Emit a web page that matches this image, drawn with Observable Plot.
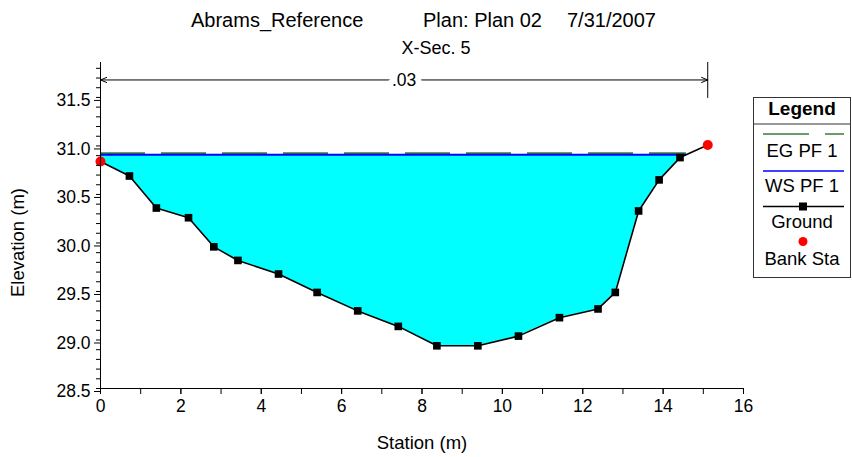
<!DOCTYPE html>
<html>
<head>
<meta charset="utf-8">
<script src="https://cdn.jsdelivr.net/npm/d3@7"></script>
<script src="https://cdn.jsdelivr.net/npm/@observablehq/plot@0.6"></script>
<style>
  html, body { margin: 0; padding: 0; background: #fff; }
  #wrap { position: relative; width: 852px; height: 457px; font-family: "Liberation Sans", Arial, sans-serif; color: #000; overflow: hidden; }
  #chart { position: absolute; left: 0; top: 0; }
  .t { position: absolute; white-space: pre; line-height: 1; }
  #legend { position: absolute; left: 753px; top: 97px; width: 96px; height: 179px; border: 1px solid #333; background: #fff; }
  #legend svg { position: absolute; left: 0; top: 0; }
</style>
</head>
<body>
<div id="wrap">
  <div id="chart"></div>
  <div id="titles"></div>
  <div id="legend"></div>
</div>
<script>
// ---- data ----
const titleParts = ["Abrams_Reference", "Plan: Plan 02", "7/31/2007"];
const subtitle = "X-Sec. 5";
const stations = [0, 0.72, 1.39, 2.19, 2.82, 3.42, 4.43, 5.39, 6.40, 7.41, 8.37, 9.39, 10.40, 11.42, 12.38, 12.81, 13.39, 13.90, 14.42, 15.11];
const elevations = [30.84, 30.69, 30.36, 30.26, 29.96, 29.82, 29.68, 29.49, 29.30, 29.14, 28.94, 28.94, 29.04, 29.23, 29.32, 29.49, 30.33, 30.65, 30.88, 31.01];
const bankStations = [0, 15.11];
const bankElevations = [30.84, 31.01];
const wsElevation = 30.91;
const egElevation = 30.925;
const manningN = ".03";
const xTickValues = [0, 2, 4, 6, 8, 10, 12, 14, 16];
const yTickValues = [28.5, 29.0, 29.5, 30.0, 30.5, 31.0, 31.5];
const legendLabels = ["EG PF 1", "WS PF 1", "Ground", "Bank Sta"];

// ---- derived ----
const ground = stations.map((s, i) => ({station: s, elev: elevations[i]}));
const banks = bankStations.map((s, i) => ({station: s, elev: bankElevations[i]}));
const bankSet = new Set(bankStations);
const interior = ground.filter(d => !bankSet.has(d.station));

// water polygon: from first station to where the ground rises above WS on the right
let water = [];
let xEnd = stations[stations.length - 1];
for (let i = 0; i < ground.length; i++) {
  const d = ground[i];
  if (d.elev <= wsElevation) water.push({station: d.station, ground: d.elev});
  else if (i > 0 && ground[i - 1].elev <= wsElevation) {
    const a = ground[i - 1];
    const t = (wsElevation - a.elev) / (d.elev - a.elev);
    xEnd = a.station + t * (d.station - a.station);
    water.push({station: xEnd, ground: wsElevation});
    break;
  }
}

const yTop = 31.86;
const yMinor = d3.range(285, 319, 1).map(v => v / 10);
const xMinor = d3.range(0, 17, 1);
const mid = (bankStations[0] + bankStations[1]) / 2;
const nY = 31.68;

const font = '"Liberation Sans", Arial, sans-serif';

const plot = Plot.plot({
  width: 852,
  height: 457,
  marginLeft: 100,
  marginRight: 109,
  marginTop: 62,
  marginBottom: 69,
  style: {fontFamily: font, fontSize: "17px", color: "#000", background: "transparent"},
  x: {domain: [0, 16]},
  y: {domain: [28.5, yTop]},
  marks: [
    Plot.areaY(water, {x: "station", y1: "ground", y2: () => wsElevation, fill: "#00ffff", curve: "linear"}),
    Plot.ruleY([egElevation], {x1: 0, x2: xEnd, stroke: "#3a7d3a", strokeWidth: 2, strokeDasharray: "45,16"}),
    Plot.ruleY([wsElevation], {x1: 0, x2: xEnd, stroke: "#0000ff", strokeWidth: 2}),
    Plot.line(ground, {x: "station", y: "elev", stroke: "#000", strokeWidth: 1.6}),
    Plot.dot(interior, {x: "station", y: "elev", symbol: "square", r: 4.3, fill: "#000", stroke: "none"}),
    Plot.dot(banks, {x: "station", y: "elev", r: 5, fill: "#ff0000", stroke: "none"}),
    // Manning's n annotation
    Plot.ruleX(bankStations, {y1: 31.49, y2: yTop, stroke: "#000", strokeWidth: 1}),
    Plot.arrow([{a: mid, b: bankStations[0]}, {a: mid, b: bankStations[1]}], {x1: "a", x2: "b", y1: () => nY, y2: () => nY, stroke: "#000", strokeWidth: 1, headLength: 10, headAngle: 45, bend: 0}),
    Plot.text([manningN], {x: mid, y: nY, fontSize: 17.5, fill: "#000", stroke: "#fff", strokeWidth: 12, paintOrder: "stroke"}),
    // axes
    Plot.ruleX([0], {y1: 28.5, y2: yTop, stroke: "#000"}),
    Plot.ruleY([28.5], {x1: 0, x2: 16, stroke: "#000"}),
    Plot.axisY({ticks: yMinor, tickSize: 4, tickFormat: () => "", label: null, stroke: "#000"}),
    Plot.axisY({ticks: yTickValues, tickSize: 6, tickPadding: 4, tickFormat: d => d.toFixed(1), label: null, fontSize: 17.5, dy: 3, stroke: "#000", fill: "#000"}),
    Plot.axisX({ticks: xMinor, tickSize: 6, tickFormat: () => "", label: null, stroke: "#000"}),
    Plot.axisX({ticks: xTickValues, tickSize: 6, tickPadding: 5, label: null, fontSize: 17.5, stroke: "#000", fill: "#000"}),
    Plot.text(["Elevation (m)"], {frameAnchor: "left", textAnchor: "middle", dx: -82, dy: 17, rotate: -90, fontSize: 18.5, fill: "#000"}),
    Plot.text(["Station (m)"], {frameAnchor: "bottom", textAnchor: "middle", dy: 55, lineAnchor: "middle", fontSize: 18.5, fill: "#000"})
  ]
});
document.getElementById("chart").appendChild(plot);

// titles
const titleLefts = [191, 423, 567];
document.getElementById("titles").innerHTML =
  titleParts.map((p, i) => `<div class="t" style="left:${titleLefts[i]}px; top:10px; font-size:20px;">${p}</div>`).join("") +
  `<div class="t" style="left:0; top:39px; width:872px; text-align:center; font-size:18px;">${subtitle}</div>`;

// legend
const lg = document.getElementById("legend");
lg.innerHTML = `
<svg width="96" height="179" font-family='${font}' font-size="18.5">
  <text x="48" y="12" text-anchor="middle" dominant-baseline="middle" font-weight="bold" font-size="19">Legend</text>
  <line x1="0" x2="96" y1="26" y2="26" stroke="#333"/>
  <line x1="9" x2="55" y1="36" y2="36" stroke="#3a7d3a" stroke-width="1.5"/>
  <line x1="71" x2="90" y1="36" y2="36" stroke="#3a7d3a" stroke-width="1.5"/>
  <text x="48" y="54" text-anchor="middle" dominant-baseline="middle">${legendLabels[0]}</text>
  <line x1="9" x2="90" y1="73" y2="73" stroke="#0000ff" stroke-width="1.5"/>
  <text x="48" y="89" text-anchor="middle" dominant-baseline="middle">${legendLabels[1]}</text>
  <line x1="9" x2="90" y1="108.5" y2="108.5" stroke="#000" stroke-width="1.5"/>
  <rect x="45" y="104.5" width="8" height="8" fill="#000"/>
  <text x="48" y="125" text-anchor="middle" dominant-baseline="middle">${legendLabels[2]}</text>
  <circle cx="49" cy="143.5" r="4.5" fill="#ff0000"/>
  <text x="48" y="162" text-anchor="middle" dominant-baseline="middle">${legendLabels[3]}</text>
</svg>`;
</script>
</body>
</html>
